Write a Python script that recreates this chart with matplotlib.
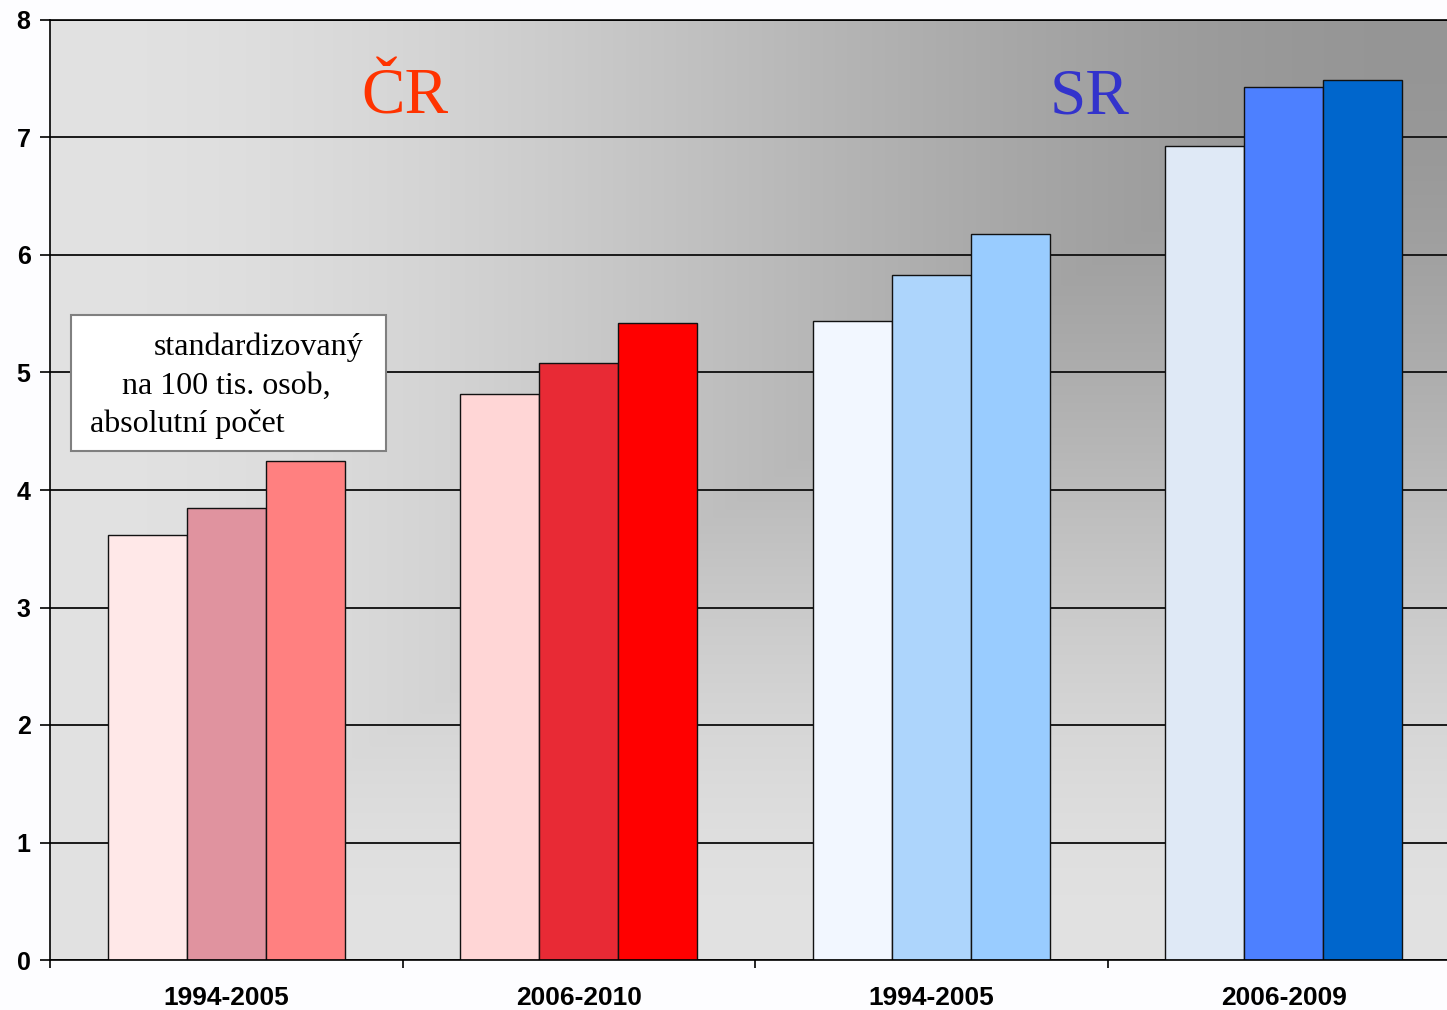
import matplotlib.pyplot as plt
import numpy as np
from matplotlib.patches import Rectangle

plt.rcParams["font.family"] = ["Liberation Sans", "DejaVu Sans"]

# data
groups = ["1994-2005", "2006-2010", "1994-2005", "2006-2009"]
bar1 = [3.62, 4.82, 5.44, 6.93]
bar2 = [3.85, 5.08, 5.83, 7.43]
bar3 = [4.25, 5.42, 6.18, 7.49]
colors1 = ["#ffe8e8", "#ffd6d6", "#f2f7ff", "#dfe9f6"]
colors2 = ["#e0939f", "#e82a35", "#add5fc", "#4d80ff"]
colors3 = ["#ff8080", "#ff0000", "#99ccff", "#0066cc"]

fig = plt.figure(figsize=(14.47, 10.10), dpi=100, facecolor="#fdfdff")
# plot area runs a little past the right edge of the picture
ax = fig.add_axes([50 / 1447, 50 / 1010, 1410 / 1447, 940 / 1010])

# background: rectangular gradient, darkest at top-right corner
nx, ny = 400, 300
u = np.linspace(1, 0, nx)[None, :]   # distance from right edge
v = np.linspace(1, 0, ny)[:, None]   # distance from top (row 0 = bottom)
t = np.maximum(np.broadcast_to(u, (ny, nx)), np.broadcast_to(v, (ny, nx)))
t = t * t * (3 - 2 * t)
g = (149 + 77 * t) / 255.0
img = np.dstack([g, g, g])
ax.imshow(img, extent=(-0.5, 3.5, 0, 8), origin="lower", aspect="auto",
          zorder=0, interpolation="bilinear")

x = np.arange(len(groups))
w = 0.224
for vals, cols, off in [(bar1, colors1, -w), (bar2, colors2, 0), (bar3, colors3, w)]:
    ax.bar(x + off, vals, width=w, color=cols, edgecolor="#111111",
           linewidth=1.0, zorder=2)

ax.set_xlim(-0.5, 3.5)
ax.set_ylim(0, 8)

ax.yaxis.grid(True, color="#1a1a1a", linewidth=1.4, zorder=1)
ax.set_axisbelow(True)

ax.set_yticks(range(0, 9))
ax.set_yticklabels([str(i) for i in range(0, 9)], fontsize=18,
                   fontweight="bold")
ax.tick_params(axis="y", direction="out", length=7, width=1.2, pad=7)

ax.set_xticks(np.arange(-0.5, 3.6, 1.0))
ax.set_xticklabels([])
ax.set_xticks(x, minor=True)
ax.set_xticklabels(groups, minor=True, fontsize=19, fontweight="bold")
ax.tick_params(axis="x", which="major", direction="out", length=6, width=1.2)
ax.tick_params(axis="x", which="minor", length=0, pad=19)

for s in ["left", "bottom", "top"]:
    ax.spines[s].set_color("black")
    ax.spines[s].set_linewidth(1.2)
ax.spines["right"].set_visible(False)

ax.text(355 / 1410, 0.917, "ČR", transform=ax.transAxes, ha="center",
        va="center", fontsize=47, family="Liberation Serif", color="#ff3300")
ax.text(1040 / 1410, 0.917, "SR", transform=ax.transAxes, ha="center",
        va="center", fontsize=47, family="Liberation Serif", color="#3333cc")

ax.add_patch(Rectangle((21 / 1410, 0.5415), 315 / 1410, 0.1445,
                       transform=ax.transAxes, facecolor="white",
                       edgecolor="#808080", linewidth=1.5, zorder=5))
for tx, ty, s in [(104, 0.6436, "standardizovaný"),
                  (72, 0.6021, "na 100 tis. osob,"),
                  (40, 0.5617, "absolutní počet")]:
    ax.text(tx / 1410, ty, s, transform=ax.transAxes, ha="left",
            va="baseline", fontsize=23, family="Liberation Serif",
            color="black", zorder=6)

fig.savefig("out.png", dpi=100, facecolor=fig.get_facecolor())
